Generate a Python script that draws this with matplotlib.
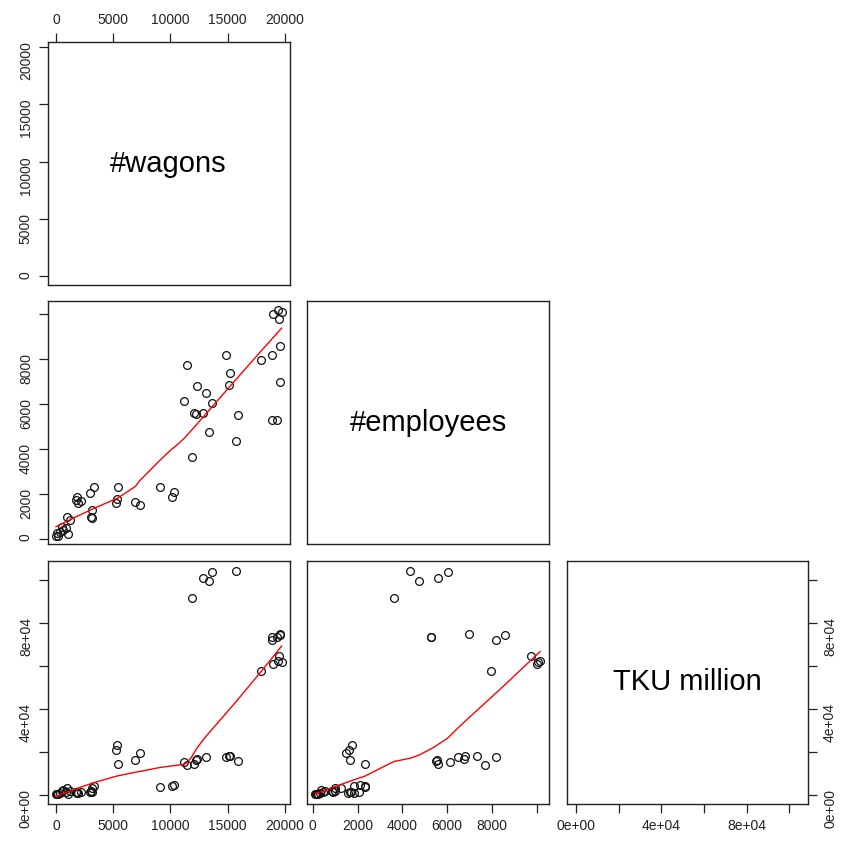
#!/usr/bin/env python3
"""Scatterplot matrix (lower panels with lowess smooth) for wagons, employees and TKU."""

import numpy as np
import matplotlib

matplotlib.use("Agg")
import matplotlib.pyplot as plt
from matplotlib.ticker import FixedLocator, FixedFormatter

plt.rcParams["font.family"] = ["Liberation Sans", "DejaVu Sans"]

# one entry per railway company
wagons = [
	18920, 19360, 19710, 19500, 19530, 18830, 17950, 19530, 18860, 19270,
	11840, 12840, 13360, 13650, 15700,
	11170, 11460, 12100, 12250, 12340, 13070, 14880, 15120, 15200, 15940,
	9120, 10150, 10290, 5380, 5320, 5200, 6930, 7310,
	3360, 2980, 3130, 3070, 3130,
	1815, 1755, 1900, 2190,
	938, 1228,
	60, 350, 640, 500, 850, 1080, 200, 0,
]
employees = [
	10000, 10146, 10057, 9746, 8575, 8175, 7938, 6960, 5282, 5282,
	3620, 5580, 4760, 6025, 4360,
	6128, 7700, 5580, 5535, 6764, 6470, 8175, 6810, 7343, 5490,
	2314, 1840, 2090, 2314, 1767, 1600, 1647, 1500,
	2314, 2047, 1277, 979, 908,
	1842, 1723, 1587, 1650,
	979, 846,
	240, 312, 387, 534, 463, 196, 120, 134,
]
tku_million = [
	61000, 62200, 61900, 64650, 74400, 72000, 57660, 74880, 73600, 73330,
	91480, 101070, 99530, 103720, 104330,
	15200, 13950, 14270, 16280, 16740, 17530, 17350, 17820, 18140, 15810,
	3400, 4190, 4650, 14420, 23250, 20930, 15950, 19390,
	3880, 1200, 3100, 1550, 1080,
	800, 1000, 700, 1000,
	3100, 1550,
	300, 800, 2300, 1500, 1200, 200, 100, 400,
]

var_names = ["#wagons", "#employees", "TKU million"]

wagon_ticks = [0, 5000, 10000, 15000, 20000]
wagon_labels = ["0", "5000", "10000", "15000", "20000"]
employee_ticks = [0, 2000, 4000, 6000, 8000, 10000]
employee_labels = ["0", "2000", "4000", "6000", "8000", ""]
tku_ticks = [0, 20000, 40000, 60000, 80000, 100000]
tku_labels = ["0e+00", "", "4e+04", "", "8e+04", ""]


def lowess(x, y, f=2.0 / 3.0, n_iter=3):
	"""Plain robust locally weighted regression (same settings as R's lowess)."""
	order = np.argsort(x, kind="stable")
	x = np.asarray(x, dtype=float)[order]
	y = np.asarray(y, dtype=float)[order]
	n = len(x)
	ns = max(min(int(f * n + 1e-7), n), 2)
	robust = np.ones(n)
	fitted = np.zeros(n)
	for it in range(n_iter + 1):
		for i in range(n):
			dist = np.abs(x - x[i])
			h = max(np.sort(dist)[ns - 1], 1e-12)
			u = np.clip(dist / h, 0, 1)
			w = (1 - u ** 3) ** 3 * robust
			sw = w.sum()
			if sw <= 0:
				fitted[i] = y[i]
				continue
			xm = (w * x).sum() / sw
			ym = (w * y).sum() / sw
			sxx = (w * (x - xm) ** 2).sum()
			if sxx > 1e-12 * (x.max() - x.min()) ** 2 * sw:
				slope = (w * (x - xm) * (y - ym)).sum() / sxx
				fitted[i] = ym + slope * (x[i] - xm)
			else:
				fitted[i] = ym
		if it == n_iter:
			break
		res = y - fitted
		cmad = 6 * np.median(np.abs(res))
		if cmad < 1e-12:
			break
		r = np.clip(np.abs(res) / cmad, 0, 1)
		robust = (1 - r ** 2) ** 2
	return x, fitted


W, H = 842, 843
fig = plt.figure(figsize=(W / 100, H / 100), dpi=100)

col_left = [47.5, 307.3, 566.5]
row_top = [42, 301, 561]
pw, ph = 242, 243

data = [np.array(wagons), np.array(employees), np.array(tku_million)]
limits = [(-743, 20400), (-241, 10562), (-4400, 108900)]
ticks = [(wagon_ticks, wagon_labels), (employee_ticks, employee_labels), (tku_ticks, tku_labels)]


def make_axes(row, col):
	rect = (col_left[col] / W, 1 - (row_top[row] + ph) / H, pw / W, ph / H)
	ax = fig.add_axes(rect)
	ax.set_xlim(*limits[col])
	ax.set_ylim(*limits[row])
	for sp in ax.spines.values():
		sp.set_linewidth(1.0)
		sp.set_color("#222222")
	tx, lx = ticks[col]
	ty, ly = ticks[row]
	ax.xaxis.set_major_locator(FixedLocator(tx))
	ax.xaxis.set_major_formatter(FixedFormatter(lx))
	ax.yaxis.set_major_locator(FixedLocator(ty))
	ax.yaxis.set_major_formatter(FixedFormatter(ly))
	ax.tick_params(
		direction="out", length=6.5, width=0.9, color="#222222", labelsize=10, pad=4,
		labelcolor="#222222",
		bottom=False, top=False, left=False, right=False,
		labelbottom=False, labeltop=False, labelleft=False, labelright=False,
	)
	ax.tick_params(axis="y", labelrotation=90)
	for lab in ax.get_yticklabels():
		lab.set_verticalalignment("center")
	return ax


n = len(var_names)
for i in range(n):
	for j in range(i + 1):
		ax = make_axes(i, j)
		if i == j:
			ax.text(0.5, 0.5, var_names[i], transform=ax.transAxes,
				ha="center", va="center", fontsize=21)
		else:
			ax.plot(data[j], data[i], "o", mfc="none", mec="#111111", ms=5.6, mew=0.9)
			sx, sy = lowess(data[j], data[i])
			ax.plot(sx, sy, color="red", lw=1)
		# R pairs puts axes on alternating sides
		if j == 0:
			ax.tick_params(left=True, labelleft=True)
		if i == 0 and j == 0:
			ax.tick_params(top=True, labeltop=True)
		if i == n - 1:
			ax.tick_params(bottom=True, labelbottom=True)
		if i == j == n - 1:
			ax.tick_params(right=True, labelright=True)

fig.savefig("out.png", dpi=100)
